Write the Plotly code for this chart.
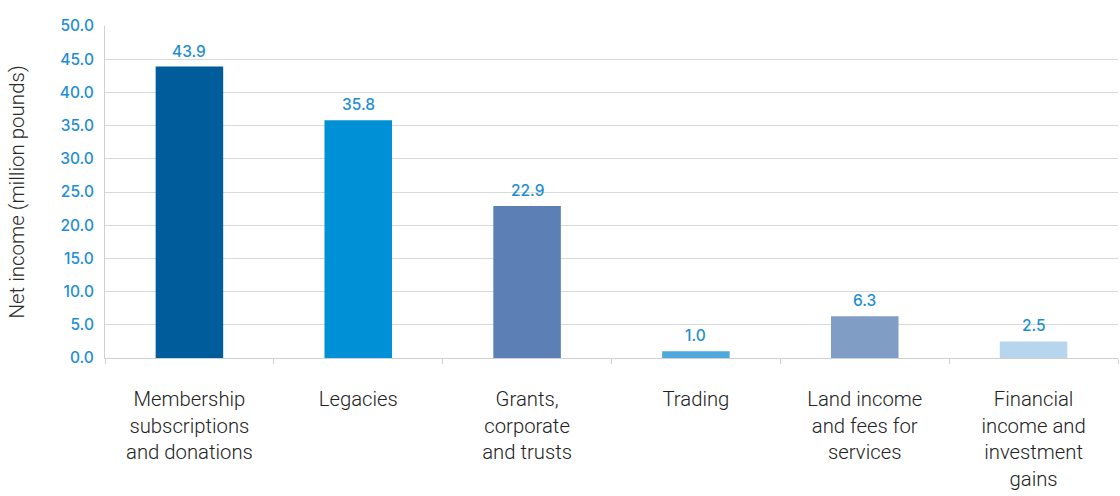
import plotly.graph_objects as go

categories = [
    "Membership<br>subscriptions<br>and donations",
    "Legacies",
    "Grants,<br>corporate<br>and trusts",
    "Trading",
    "Land income<br>and fees for<br>services",
    "Financial<br>income and<br>investment<br>gains",
]
values = [43.9, 35.8, 22.9, 1.0, 6.3, 2.5]
bar_colors = ["#005C9B", "#0090D6", "#5C80B5", "#4FA9DD", "#809DC5", "#B7D5ED"]
y_ticks = [0, 5, 10, 15, 20, 25, 30, 35, 40, 45, 50]

label_font = dict(family="Inter", size=15.5, color="#1E8ED4", weight=500)

fig = go.Figure(
    go.Bar(
        x=categories,
        y=values,
        marker=dict(color=bar_colors, line=dict(width=0)),
        width=0.4,
        cliponaxis=False,
    )
)

for c, v in zip(categories, values):
    fig.add_annotation(
        x=c, y=v, text=f"{v:.1f}", showarrow=False,
        yanchor="bottom", yshift=4, font=label_font,
    )

fig.update_layout(
    width=1120,
    height=496,
    margin=dict(l=105, r=2, t=26, b=138),
    plot_bgcolor="white",
    paper_bgcolor="white",
    showlegend=False,
)

fig.update_yaxes(
    range=[0, 50],
    tickvals=y_ticks,
    ticktext=[f"{v:.1f}" for v in y_ticks],
    tickfont=label_font,
    showgrid=True,
    gridcolor="#D9D9D9",
    gridwidth=1,
    showline=True,
    linecolor="#D0D0D0",
    linewidth=1,
    zeroline=False,
    ticks="",
    ticklabelstandoff=7,
    title=dict(
        text="Net income (million pounds)",
        font=dict(family="Roboto", size=20.5, color="#2A2A2A", weight=300),
        standoff=29,
    ),
)

fig.update_xaxes(
    tickfont=dict(family="Roboto", size=20.3, color="#222222", weight=300),
    showline=True,
    linecolor="#D0D0D0",
    linewidth=1,
    ticks="outside",
    tickson="boundaries",
    ticklen=5,
    tickcolor="#D0D0D0",
    ticklabelstandoff=23,
    showgrid=False,
)

fig.write_html("out.html")
